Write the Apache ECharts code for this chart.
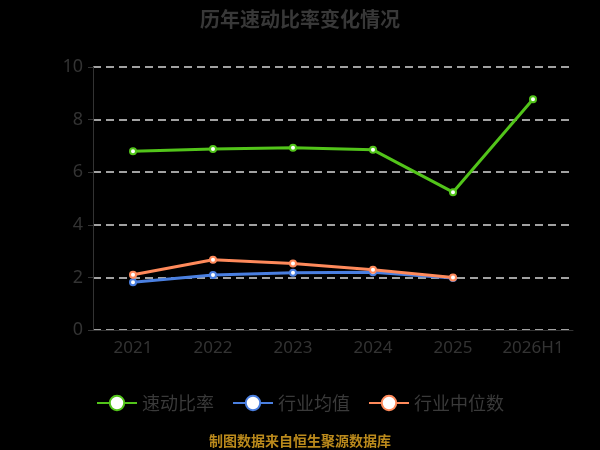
<!DOCTYPE html>
<html><head><meta charset="utf-8">
<script src="https://cdn.jsdelivr.net/npm/echarts@6/dist/echarts.min.js"></script>
<style>html,body{margin:0;padding:0;background:#000;}#c{width:600px;height:450px;}</style>
</head><body><div id="c"></div>
<script>
const categories = ['2021','2022','2023','2024','2025','2026H1'];
const quickRatio = [6.80, 6.88, 6.93, 6.85, 5.24, 8.77];
const industryMean = [1.82, 2.09, 2.18, 2.20, 1.98];
const industryMedian = [2.10, 2.67, 2.53, 2.29, 2.00];
const seriesNames = ['速动比率','行业均值','行业中位数'];
const colors = ['#52c41a','#4a7fe0','#ff8a5b'];

const chart = echarts.init(document.getElementById('c'));
function mkSeries(name, data, color){
  return {name, type:'line', data, symbol:'circle', symbolSize:6, showSymbol:true,
    lineStyle:{color, width:3}, itemStyle:{color:'#fff', borderColor:color, borderWidth:2}};
}
chart.setOption({
  backgroundColor:'#000',
  color: colors,
  textStyle:{fontFamily:'Noto Sans, Noto Sans CJK SC'},
  title:{text:'历年速动比率变化情况', left:'center', top:4,
    textStyle:{color:'#383838', fontSize:20, fontWeight:'bold', fontFamily:'Noto Sans CJK SC'}},
  legend:{top:389, left:'center', itemWidth:40, itemHeight:18, itemGap:18,
    textStyle:{color:'#3a3a3a', fontSize:18, fontFamily:'Noto Sans CJK SC'},
    data: seriesNames},
  grid:{left:93, right:27, top:67, bottom:120, containLabel:false},
  xAxis:{type:'category', data:categories, boundaryGap:true,
    axisLine:{lineStyle:{color:'#333'}}, axisTick:{lineStyle:{color:'#333'}},
    axisLabel:{color:'#333', fontSize:17, margin:10, fontFamily:'Noto Sans'}},
  yAxis:{type:'value', min:0, max:10, interval:2,
    axisLine:{show:true, lineStyle:{color:'#333'}}, axisTick:{show:true, lineStyle:{color:'#333'}},
    axisLabel:{color:'#333', fontSize:18, margin:10, fontFamily:'Noto Sans'},
    splitLine:{lineStyle:{color:'#d8d8d8', type:[8,5], width:1.5}}},
  series:[
    mkSeries(seriesNames[0], quickRatio, colors[0]),
    mkSeries(seriesNames[1], industryMean, colors[1]),
    mkSeries(seriesNames[2], industryMedian, colors[2])
  ],
  graphic:[{type:'text', left:'center', top:434,
    style:{text:'制图数据来自恒生聚源数据库', fill:'#bb8a1c', fontSize:14, fontWeight:'bold', fontFamily:'Noto Sans CJK SC'}}]
});
</script></body></html>
